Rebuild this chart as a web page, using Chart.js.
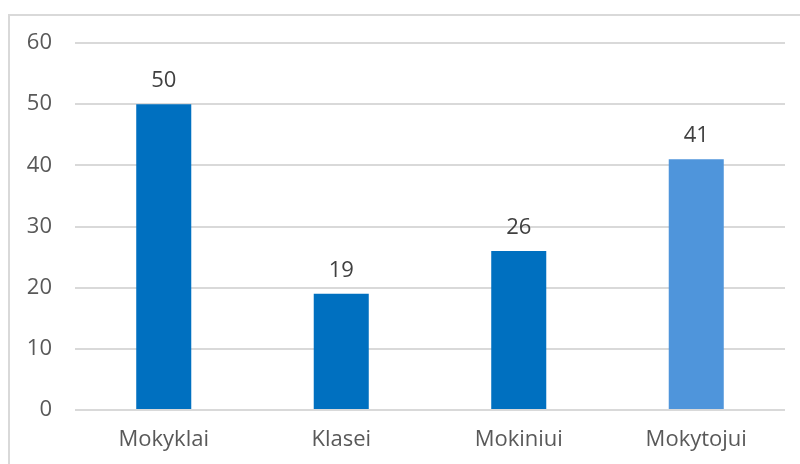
<!DOCTYPE html>
<html>
<head>
<meta charset="utf-8">
<script src="https://cdn.jsdelivr.net/npm/chart.js@4.4.1/dist/chart.umd.min.js"></script>
<style>
  html, body { margin: 0; padding: 0; background: #fff; overflow: hidden; }
  #frame { position: absolute; left: 8px; top: 14px; width: 820px; height: 480px; border: 2px solid #d9d9d9; }
  #wrap { position: absolute; left: 0; top: 0; width: 800px; height: 464px; }
</style>
</head>
<body>
<div id="frame"></div>
<div id="wrap"><canvas id="bar-chart"></canvas></div>
<script>
// chart data
var categories = ["Mokyklai", "Klasei", "Mokiniui", "Mokytojui"];
var values = [50, 19, 26, 41];
var barColors = ["#0070C0", "#0070C0", "#0070C0", "#4F95DB"];
var yTicks = [0, 10, 20, 30, 40, 50, 60];

var fontFamily = "'Open Sans', 'Liberation Sans', sans-serif";

// draws the value above each bar
var valueLabels = {
	id: 'valueLabels',
	afterDatasetsDraw: function(chart) {
		var ctx = chart.ctx;
		var meta = chart.getDatasetMeta(0);
		ctx.save();
		ctx.font = "22px " + fontFamily;
		ctx.fillStyle = "#404040";
		ctx.textAlign = "center";
		ctx.textBaseline = "alphabetic";
		meta.data.forEach(function(bar, i) {
			ctx.fillText(String(values[i]), bar.x, bar.y - 17);
		});
		ctx.restore();
	}
};

var ctx = document.getElementById("bar-chart").getContext('2d');
var myChart = new Chart(ctx, {
	type: 'bar',
	data: {
		labels: categories,
		datasets: [{
			data: values,
			backgroundColor: barColors,
			categoryPercentage: 1,
			barPercentage: 0.31
		}]
	},
	plugins: [valueLabels],
	options: {
		responsive: true,
		maintainAspectRatio: false,
		animation: false,
		layout: { padding: { top: 43, right: 15, bottom: 0, left: 0 } },
		plugins: {
			legend: { display: false },
			tooltip: { enabled: false }
		},
		scales: {
			x: {
				grid: { display: false, drawTicks: false },
				border: { display: false },
				ticks: {
					color: "#595959",
					font: { family: fontFamily, size: 22 },
					padding: 17,
					maxRotation: 0
				},
				afterFit: function(scale) { scale.height = 54; }
			},
			y: {
				min: 0,
				max: 60,
				afterBuildTicks: function(scale) {
					scale.ticks = yTicks.map(function(v) { return { value: v }; });
				},
				grid: { color: "#d9d9d9", lineWidth: 2, drawTicks: false },
				border: { display: false },
				ticks: {
					color: "#595959",
					font: { family: fontFamily, size: 22 },
					padding: 23
				},
				afterFit: function(scale) { scale.width = 75; }
			}
		}
	}
});
</script>
</body>
</html>
